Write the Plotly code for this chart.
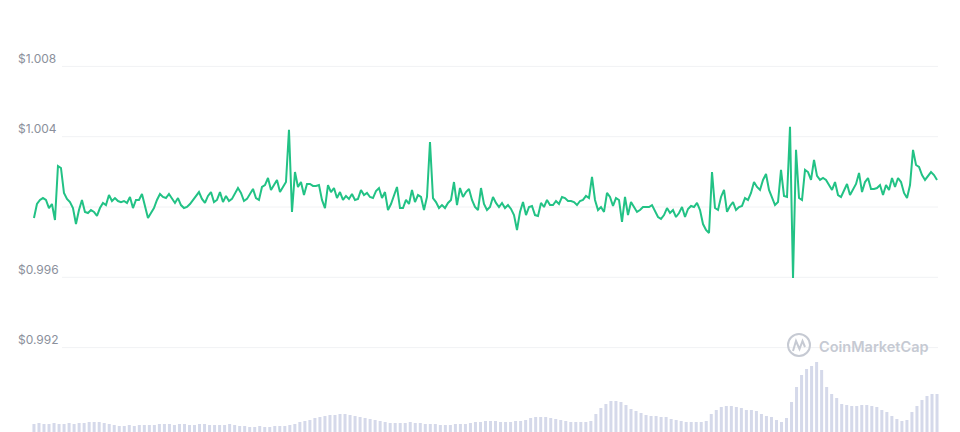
import plotly.graph_objects as go
import pandas as pd

# ---- data (stablecoin price, 7 days) ----
price = [
    0.99937, 1.00017, 1.00040, 1.00051, 1.00040, 0.99994, 1.00017, 0.99926, 1.00233, 1.00222,
    1.00080, 1.00046, 1.00028, 0.99994, 0.99903, 0.99983, 1.00040, 0.99972, 0.99966, 0.99983,
    0.99972, 0.99949, 0.99994, 1.00023, 1.00011, 1.00068, 1.00034, 1.00051, 1.00034, 1.00028,
    1.00034, 1.00023, 1.00057, 0.99994, 1.00040, 1.00040, 1.00074, 1.00011, 0.99937, 0.99966,
    0.99994, 1.00040, 1.00074, 1.00057, 1.00051, 1.00074, 1.00046, 1.00023, 1.00051, 1.00011,
    0.99994, 1.00000, 1.00017, 1.00040, 1.00068, 1.00085, 1.00046, 1.00023, 1.00063, 1.00085,
    1.00028, 1.00040, 1.00085, 1.00028, 1.00063, 1.00034, 1.00046, 1.00080, 1.00108, 1.00080,
    1.00034, 1.00046, 1.00074, 1.00103, 1.00051, 1.00040, 1.00114, 1.00125, 1.00165, 1.00097,
    1.00125, 1.00154, 1.00085, 1.00114, 1.00142, 1.00439, 0.99972, 1.00199, 1.00114, 1.00142,
    1.00068, 1.00131, 1.00131, 1.00120, 1.00120, 1.00125, 1.00040, 0.99994, 1.00125, 1.00085,
    1.00108, 1.00051, 1.00085, 1.00040, 1.00063, 1.00046, 1.00074, 1.00040, 1.00046, 1.00097,
    1.00068, 1.00080, 1.00057, 1.00051, 1.00091, 1.00108, 1.00051, 1.00085, 0.99983, 1.00017,
    1.00068, 1.00114, 0.99994, 0.99994, 1.00040, 1.00017, 1.00097, 1.00028, 1.00068, 1.00057,
    0.99983, 1.00057, 1.00370, 1.00051, 1.00028, 0.99994, 1.00011, 0.99994, 1.00023, 1.00040,
    1.00142, 1.00011, 1.00108, 1.00057, 1.00085, 1.00103, 1.00040, 1.00000, 0.99983, 1.00108,
    1.00017, 0.99983, 1.00000, 1.00057, 1.00023, 1.00000, 1.00023, 0.99994, 1.00011, 0.99989,
    0.99954, 0.99869, 0.99972, 1.00028, 0.99954, 1.00000, 1.00006, 0.99954, 0.99949, 1.00023,
    1.00000, 1.00040, 1.00011, 1.00011, 1.00034, 1.00017, 1.00057, 1.00051, 1.00034, 1.00034,
    1.00028, 1.00011, 1.00034, 1.00040, 1.00063, 1.00051, 1.00171, 1.00040, 0.99983, 1.00000,
    0.99972, 1.00080, 1.00057, 1.00006, 1.00051, 1.00040, 0.99915, 1.00057, 0.99954, 1.00028,
    1.00000, 0.99972, 0.99983, 1.00000, 1.00000, 1.00000, 1.00011, 0.99972, 0.99943, 0.99932,
    0.99954, 0.99994, 0.99966, 0.99983, 0.99943, 0.99966, 1.00000, 0.99943, 0.99989, 1.00006,
    1.00000, 1.00023, 0.99983, 0.99903, 0.99869, 0.99852, 1.00199, 0.99994, 0.99983, 1.00057,
    1.00097, 0.99972, 1.00006, 1.00028, 0.99983, 1.00000, 1.00006, 1.00051, 1.00040, 1.00080,
    1.00142, 1.00114, 1.00097, 1.00154, 1.00188, 1.00097, 1.00057, 1.00011, 1.00028, 1.00211,
    1.00063, 1.00057, 1.00456, 0.99596, 1.00325, 1.00051, 1.00040, 1.00211, 1.00199, 1.00154,
    1.00268, 1.00177, 1.00154, 1.00165, 1.00154, 1.00125, 1.00097, 1.00142, 1.00068, 1.00057,
    1.00097, 1.00131, 1.00068, 1.00097, 1.00131, 1.00194, 1.00085, 1.00142, 1.00165, 1.00103,
    1.00103, 1.00108, 1.00125, 1.00068, 1.00125, 1.00097, 1.00165, 1.00114, 1.00165, 1.00142,
    1.00080, 1.00051, 1.00125, 1.00325, 1.00239, 1.00228, 1.00182, 1.00154, 1.00177, 1.00199,
    1.00182, 1.00154,
]

# 24h-volume bars (millions USD, relative)
volume = [
    8, 9, 8, 8, 9, 8, 8, 9, 8, 9,
    9, 10, 10, 10, 9, 8,
    7, 6, 6, 7, 6, 7, 7, 7,
    7, 8, 8, 8, 7, 8, 8, 7, 7, 8, 8, 7, 7, 7, 7, 8, 7, 6,
    6, 5, 5, 6, 5, 5, 6, 6, 6, 7, 8, 10,
    11, 12, 14, 15, 16, 17, 17, 18, 18, 17, 16, 15,
    14, 13, 12, 11,
    10, 9, 9, 9, 9, 10, 9, 9, 8, 8, 8,
    7, 7, 7, 8, 8, 8, 9, 10, 10,
    11, 11, 11, 10, 10, 10, 11, 11, 12,
    14, 15, 15, 15, 14, 13, 12,
    11, 10, 10, 10, 10, 11,
    18, 24, 28, 31, 31, 30, 27, 23, 21, 19,
    17, 16, 16, 15, 15, 13, 12, 11, 10, 10, 10, 10, 11,
    18, 22, 25, 26, 26, 25, 24, 22, 22, 21, 18,
    16, 15, 12, 10, 14,
    30, 45, 57, 63, 66, 70, 62, 45, 38,
    34, 28, 27, 26, 26, 27, 27, 26, 25, 22,
    20, 16, 13, 11, 12,
    20, 26, 32, 36, 38, 38,
]

tick_values = [1.008, 1.004, 1.000, 0.996, 0.992]
tick_labels = ["$1.008", "$1.004", "", "$0.996", "$0.992"]

start = pd.Timestamp("2021-06-01 00:00")
end = pd.Timestamp("2021-06-08 00:00")
price_t = pd.date_range(start, end, periods=len(price))
vol_t = pd.date_range(start, end, periods=len(volume))

W, H = 960, 432
px_per = (end - start) / (937 - 34)
x_range = [start - 34 * px_per, end + (W - 937) * px_per]

fig = go.Figure()
fig.add_trace(go.Bar(
    x=vol_t, y=volume, yaxis="y2",
    marker=dict(color="#d5d9ea", line=dict(width=0)),
    hoverinfo="skip", showlegend=False,
))
fig.add_trace(go.Scatter(
    x=price_t, y=price, mode="lines",
    line=dict(color="#22c285", width=2),
    showlegend=False,
))

def px(xp):
    return xp / W

def py(yp):
    return 1 - yp / H

shapes = []
for v in tick_values:
    shapes.append(dict(type="line", xref="paper", yref="y",
                       x0=px(62), x1=px(938), y0=v, y1=v,
                       line=dict(color="#f1f2f4", width=1), layer="below"))

annotations = []
for v, t in zip(tick_values, tick_labels):
    if t:
        annotations.append(dict(xref="paper", yref="y", x=px(16), y=v,
                                xanchor="left", yanchor="middle", yshift=8,
                                text=t, showarrow=False,
                                font=dict(family="Inter, sans-serif", size=12, color="#8b909c")))

# watermark
wm = "#c6cad3"
shapes.append(dict(type="circle", xref="paper", yref="paper",
                   x0=px(788), x1=px(810), y0=py(356), y1=py(334),
                   line=dict(color=wm, width=2)))
path = "M {},{} L {},{} L {},{} L {},{} L {},{}".format(
    px(793), py(351), px(796), py(341), px(799.5), py(349),
    px(802.5), py(341), px(805), py(347))
shapes.append(dict(type="path", xref="paper", yref="paper", path=path,
                   line=dict(color=wm, width=2)))
annotations.append(dict(xref="paper", yref="paper", x=px(817), y=py(346),
                        xanchor="left", yanchor="middle",
                        text="CoinMarketCap", showarrow=False,
                        font=dict(family="Inter, sans-serif", size=14.5, color=wm, weight=600)))

fig.update_layout(
    width=W, height=H,
    margin=dict(l=0, r=0, t=0, b=0),
    paper_bgcolor="white", plot_bgcolor="white",
    bargap=0.4,
    hovermode=False,
    xaxis=dict(type="date", range=x_range, visible=False, showgrid=False),
    yaxis=dict(range=[1.000 - 225 / 17575, 1.000 + 207 / 17575],
               visible=False, showgrid=False, zeroline=False),
    yaxis2=dict(range=[0, 432], overlaying="y", visible=False,
                showgrid=False, zeroline=False),
    shapes=shapes,
    annotations=annotations,
)

fig.write_html("out.html",
               config={"displayModeBar": False},
               post_script="document.body.style.margin='0';document.body.style.overflow='hidden';")
